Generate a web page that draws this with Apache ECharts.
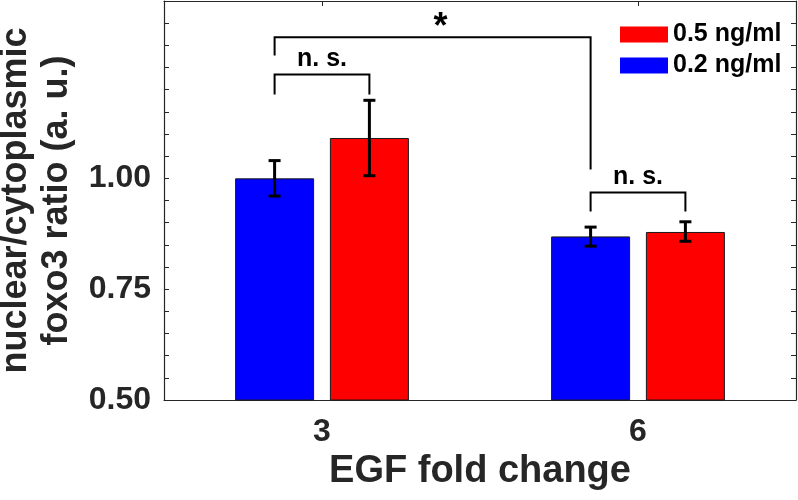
<!DOCTYPE html>
<html>
<head>
<meta charset="utf-8">
<script src="https://cdn.jsdelivr.net/npm/echarts@6/dist/echarts.min.js"></script>
<style>html,body{margin:0;padding:0;background:#fff;}#chart{width:798px;height:500px;}</style>
</head>
<body>
<div id="chart"></div>
<script>
const categories = ['3', '6'];
const seriesNames = ['0.2 ng/ml', '0.5 ng/ml'];
const blueValues = [1.000, 0.869];
const redValues = [1.091, 0.879];
const blueLow = [0.960, 0.847];
const blueHigh = [1.040, 0.890];
const redLow = [1.006, 0.858];
const redHigh = [1.176, 0.902];
// brackets: from (category, series) to (category, series)
const bracketCatA = [0, 0, 1];
const bracketSerA = [0, 0, 0];
const bracketCatB = [0, 1, 1];
const bracketSerB = [1, 0, 1];
const bracketTop = [1.234, 1.318, 0.968];
const bracketLegA = [1.189, 1.277, 0.925];
const bracketLegB = [1.189, 1.020, 0.925];
const bracketText = ['n. s.', '*', 'n. s.'];
const yTicks = [0.50, 0.75, 1.00];

const FONT = "'Liberation Sans', Arial, Helvetica, sans-serif";
const BAR_W = 0.25, BAR_GAP = 0.2;
const total = 2 * BAR_W + BAR_W * BAR_GAP;
const offsets = [-total / 2 + BAR_W / 2, total / 2 - BAR_W / 2];
const AX = '#262626';

function errRender(sIdx) {
  return function (params, api) {
    const cat = api.value(0);
    const band = api.size([1, 0])[0];
    const cx = api.coord([cat, api.value(1)])[0] + offsets[sIdx] * band;
    const yl = api.coord([cat, api.value(1)])[1];
    const yh = api.coord([cat, api.value(2)])[1];
    const st = { stroke: '#000', lineWidth: 3 };
    return { type: 'group', children: [
      { type: 'line', shape: { x1: cx, y1: yl, x2: cx, y2: yh }, style: st },
      { type: 'line', shape: { x1: cx - 6, y1: yl, x2: cx + 6, y2: yl }, style: st },
      { type: 'line', shape: { x1: cx - 6, y1: yh, x2: cx + 6, y2: yh }, style: st }
    ]};
  };
}

function bracketRender(params, api) {
  const i = params.dataIndex;
  const band = api.size([1, 0])[0];
  const xa = api.coord([api.value(0), 0.5])[0] + offsets[api.value(1)] * band;
  const xb = api.coord([api.value(2), 0.5])[0] + offsets[api.value(3)] * band;
  const yt = api.coord([0, api.value(4)])[1];
  const ya = api.coord([0, api.value(5)])[1];
  const yb = api.coord([0, api.value(6)])[1];
  const st = { stroke: '#000', lineWidth: 2, fill: null };
  const isStar = bracketText[i] === '*';
  return { type: 'group', children: [
    { type: 'polyline', shape: { points: [[xa, ya], [xa, yt], [xb, yt], [xb, yb]] }, style: st },
    { type: 'text', x: (xa + xb) / 2 + (isStar ? 8 : 0), y: isStar ? yt + 9 : yt - 3,
      style: { text: bracketText[i], fill: '#000', font: 'bold ' + (isStar ? 36 : 25) + 'px ' + FONT,
        align: 'center', verticalAlign: 'bottom' } }
  ]};
}

const chart = echarts.init(document.getElementById('chart'));
const yCommon = {
  type: 'value', min: 0.5, max: 1.4, interval: 0.05,
  splitLine: { show: false },
  axisLine: { show: true, lineStyle: { color: AX, width: 1.2 } },
  axisTick: { show: true, inside: true, length: 5, lineStyle: { color: AX } }
};
chart.setOption({
  animation: false,
  backgroundColor: '#fff',
  grid: { left: 164, right: 2, top: 1, bottom: 100, containLabel: false, outerBoundsMode: 'none' },
  legend: {
    data: [seriesNames[1], seriesNames[0]],
    left: 615, top: 17, orient: 'vertical', itemGap: 6,
    itemWidth: 48, itemHeight: 16, icon: 'rect',
    itemStyle: { borderWidth: 0 },
    textStyle: { fontFamily: FONT, fontWeight: 'bold', fontSize: 25, color: '#000' }
  },
  xAxis: [{
    type: 'category', data: categories, position: 'bottom',
    axisLine: { lineStyle: { color: AX, width: 1.2 } },
    axisTick: { inside: true, alignWithLabel: true, length: 5, lineStyle: { color: AX } },
    axisLabel: { fontFamily: FONT, fontWeight: 'bold', fontSize: 32, color: '#262626', margin: 16 },
    name: 'EGF fold change', nameLocation: 'middle', nameGap: 52,
    nameTextStyle: { fontFamily: FONT, fontWeight: 'bold', fontSize: 38, color: '#262626' }
  }, {
    type: 'category', data: categories, position: 'top',
    axisLine: { show: true, lineStyle: { color: AX, width: 1.2 } },
    axisTick: { show: true, inside: true, alignWithLabel: true, length: 5, lineStyle: { color: AX } },
    axisLabel: { show: false }
  }],
  yAxis: [Object.assign({}, yCommon, {
    position: 'left',
    axisLabel: { fontFamily: FONT, fontWeight: 'bold', fontSize: 32, color: '#262626', margin: 13,
      formatter: function (v) {
        for (const t of yTicks) { if (Math.abs(v - t) < 1e-6) return t.toFixed(2); }
        return '';
      } },
    name: 'nuclear/cytoplasmic\nfoxo3 ratio (a. u.)', nameLocation: 'middle', nameRotate: 90, nameGap: 82,
    nameTextStyle: { fontFamily: FONT, fontWeight: 'bold', fontSize: 36, lineHeight: 41, color: '#262626' }
  }), Object.assign({}, yCommon, {
    position: 'right', axisLabel: { show: false }
  })],
  series: [{
    name: seriesNames[0], type: 'bar', data: blueValues, barWidth: (BAR_W * 100) + '%', barGap: (BAR_GAP * 100) + '%',
    itemStyle: { color: '#0000ff', borderColor: '#1a1a1a', borderWidth: 1 }
  }, {
    name: seriesNames[1], type: 'bar', data: redValues, barWidth: (BAR_W * 100) + '%', barGap: (BAR_GAP * 100) + '%',
    itemStyle: { color: '#ff0000', borderColor: '#1a1a1a', borderWidth: 1 }
  }, {
    type: 'custom', renderItem: errRender(0), z: 5,
    data: categories.map((c, i) => [i, blueLow[i], blueHigh[i]])
  }, {
    type: 'custom', renderItem: errRender(1), z: 5,
    data: categories.map((c, i) => [i, redLow[i], redHigh[i]])
  }, {
    type: 'custom', renderItem: bracketRender, z: 5, clip: false,
    data: bracketText.map((t, i) => [bracketCatA[i], bracketSerA[i], bracketCatB[i], bracketSerB[i], bracketTop[i], bracketLegA[i], bracketLegB[i]])
  }]
});
</script>
</body>
</html>
